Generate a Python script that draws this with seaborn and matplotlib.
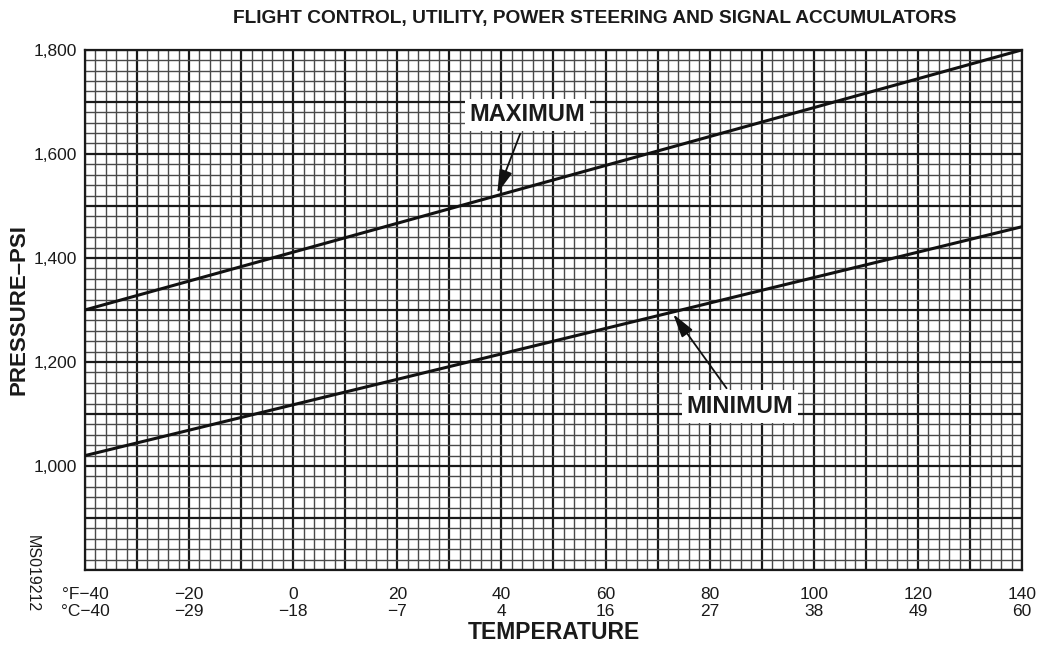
import numpy as np
import pandas as pd
import matplotlib
matplotlib.use("Agg")
import matplotlib.pyplot as plt
import seaborn as sns
from matplotlib.ticker import MultipleLocator

# -----------------------------
# Data
# -----------------------------

temp_f = [-40, 140]
max_psi = [1300, 1800]
min_psi = [1020, 1460]

tick_f = [-40, -20, 0, 20, 40, 60, 80, 100, 120, 140]
tick_c = [-40, -29, -18, -7, 4, 16, 27, 38, 49, 60]
y_label_ticks = [1000, 1200, 1400, 1600, 1800]

df = pd.DataFrame({
    'temp': temp_f * 2,
    'psi': max_psi + min_psi,
    'curve': ['MAXIMUM'] * 2 + ['MINIMUM'] * 2,
})

# -----------------------------
# Style
# -----------------------------

sns.set_style("white")
plt.rcParams['font.family'] = ['Liberation Sans', 'DejaVu Sans']
for key in ['text.color', 'axes.labelcolor', 'xtick.labelcolor', 'ytick.labelcolor']:
    plt.rcParams[key] = '#1a1a1a'

fig = plt.figure(figsize=(10.4, 6.56), dpi=100)
ax = fig.add_axes([0.0817, 0.131, 0.901, 0.793])

# grid
ax.set_xlim(-40, 140)
ax.set_ylim(800, 1800)
ax.xaxis.set_major_locator(MultipleLocator(10))
ax.xaxis.set_minor_locator(MultipleLocator(2))
ax.yaxis.set_major_locator(MultipleLocator(100))
ax.yaxis.set_minor_locator(MultipleLocator(20))
ax.grid(which='major', color='#1a1a1a', linewidth=1.6)
ax.grid(which='minor', color='#4a4a4a', linewidth=1.0)
ax.set_axisbelow(True)

sns.lineplot(data=df, x='temp', y='psi', units='curve', estimator=None,
             color='#111111', linewidth=2.2, ax=ax, legend=False, zorder=3)

for s in ax.spines.values():
    s.set_color('#1a1a1a')
    s.set_linewidth(1.6)

# ticks
ax.tick_params(which='major', direction='out', length=6, width=1.2,
               color='#1a1a1a', labelsize=12.5, pad=6)
ax.tick_params(which='minor', length=0)

xlabels = []
for f, c in zip(tick_f, tick_c):
    fs = str(f).replace('-', '\u2212')
    cs = str(c).replace('-', '\u2212')
    if f == -40:
        xlabels.append('\u00b0F' + fs + '\n\u00b0C' + cs)
    else:
        xlabels.append(fs + '\n' + cs)
major_x = np.arange(-40, 141, 10)
ax.set_xticks(major_x)
ax.set_xticklabels([xlabels[tick_f.index(v)] if v in tick_f else '' for v in major_x],
                   linespacing=1.15)

major_y = np.arange(800, 1801, 100)
ax.set_yticks(major_y)
ax.set_yticklabels([f'{v:,}' if v in y_label_ticks else '' for v in major_y])
ax.tick_params(axis='y', pad=1, length=5)

ax.set_xlabel('TEMPERATURE', fontsize=16.5, fontweight='bold', labelpad=2)
ax.set_ylabel('PRESSURE\u2013PSI', fontsize=16, fontweight='bold')
ax.yaxis.set_label_coords(-0.059, 0.5)

fig.text(0.572, 0.972, 'FLIGHT CONTROL, UTILITY, POWER STEERING AND SIGNAL ACCUMULATORS',
         ha='center', va='center', fontsize=13.8, fontweight='bold')
fig.text(0.031, 0.125, 'MS019212', rotation=-90, ha='center', va='center', fontsize=11.5)

# annotations
box = dict(boxstyle='square,pad=0.2', fc='white', ec='none')
arrow = dict(arrowstyle='-|>,head_width=0.25,head_length=0.9', color='#111111',
             lw=1.3, mutation_scale=16, shrinkA=2, shrinkB=0)
ax.annotate('MAXIMUM', xy=(39.2, 1524), xytext=(45, 1675),
            ha='center', va='center', fontsize=17, fontweight='bold',
            bbox=box, arrowprops=arrow, zorder=5)
ax.annotate('MINIMUM', xy=(73, 1292), xytext=(85.8, 1114),
            ha='center', va='center', fontsize=17, fontweight='bold',
            bbox=box, arrowprops=arrow, zorder=5)

plt.savefig('out.png', dpi=100)
